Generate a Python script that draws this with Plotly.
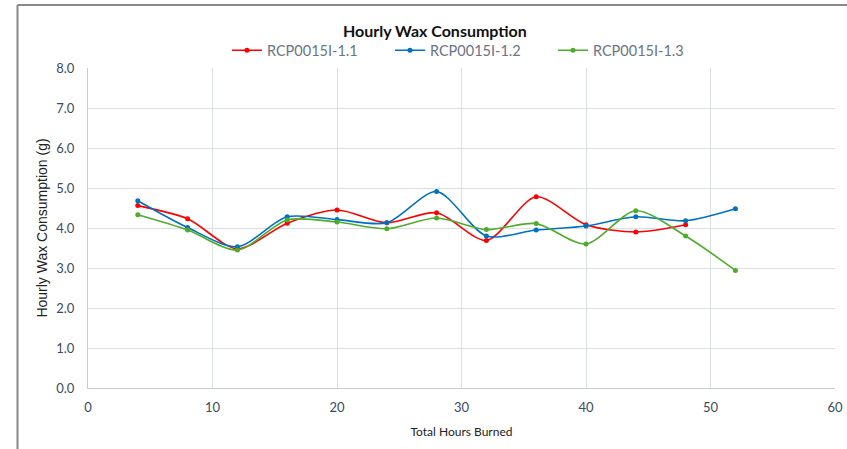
import plotly.graph_objects as go

hours = [4, 8, 12, 16, 20, 24, 28, 32, 36, 40, 44, 48, 52]
s11 = [4.56, 4.23, 3.48, 4.12, 4.45, 4.13, 4.38, 3.69, 4.78, 4.08, 3.90, 4.08]
s12 = [4.68, 4.01, 3.53, 4.28, 4.21, 4.13, 4.91, 3.80, 3.95, 4.05, 4.28, 4.18, 4.48]
s13 = [4.33, 3.95, 3.45, 4.20, 4.15, 3.98, 4.25, 3.96, 4.11, 3.60, 4.43, 3.80, 2.94]
names = ["RCP0015I-1.1", "RCP0015I-1.2", "RCP0015I-1.3"]
colors = ["#ff0000", "#0070c0", "#4eac2c"]

FONT = "Lato, sans-serif"

fig = go.Figure()
for name, vals, col in zip(names, [s11, s12, s13], colors):
    fig.add_trace(go.Scatter(
        x=hours[:len(vals)], y=vals, name=name, mode="lines+markers",
        line=dict(color=col, width=1.6, shape="spline", smoothing=0.8),
        marker=dict(color=col, size=5)))

grid = "#dcdfe6"
tickcol = "#3c4a5e"
fig.update_layout(
    width=847, height=449,
    margin=dict(l=88, r=12, t=68, b=61, autoexpand=False),
    paper_bgcolor="white", plot_bgcolor="white",
    font=dict(family=FONT, color="#222222", size=12),
    title=dict(text="<b>Hourly Wax Consumption</b>", x=0.5135, xanchor="center",
               yref="container", y=0.931, yanchor="middle", font=dict(size=16, color="#111111")),
    legend=dict(orientation="h", x=0.186, xanchor="left", yref="container", y=0.888, yanchor="middle",
                font=dict(size=14.5, color="#6b7585"), itemwidth=30,
                entrywidth=118, entrywidthmode="pixels",
                bgcolor="rgba(0,0,0,0)"),
    showlegend=True,
)
fig.update_xaxes(range=[0, 60], dtick=10, showgrid=True, gridcolor=grid, gridwidth=1,
                 showline=True, linecolor="#c5cbd8", zeroline=False, ticks="", automargin=False,
                 tickfont=dict(size=13, color=tickcol), ticklabelstandoff=7,
                 title=dict(text="Total Hours Burned", font=dict(size=12, color="#222222"), standoff=14))
fig.update_yaxes(range=[0, 8], dtick=1, tickformat=".1f", showgrid=True, gridcolor=grid, gridwidth=1,
                 showline=True, linecolor="#c5cbd8", zeroline=False, ticks="", automargin=False,
                 tickfont=dict(size=13, color=tickcol), ticklabelstandoff=10,
                 title=dict(text="Hourly Wax Consumption (g)",
                            font=dict(family="Liberation Sans, Arial, sans-serif", size=14, color="#222222"),
                            standoff=5))

# screenshot frame (top and left)
fig.add_shape(type="line", xref="paper", yref="paper", x0=-0.0944, x1=1.02, y0=1.197, y1=1.197,
              line=dict(color="#8a8a8a", width=2))
fig.add_shape(type="line", xref="paper", yref="paper", x0=-0.0944, x1=-0.0944, y0=1.197, y1=-0.2,
              line=dict(color="#8a8a8a", width=2))

fig.write_html("out.html", config={"displayModeBar": False},
               post_script="document.body.style.margin='0';")
